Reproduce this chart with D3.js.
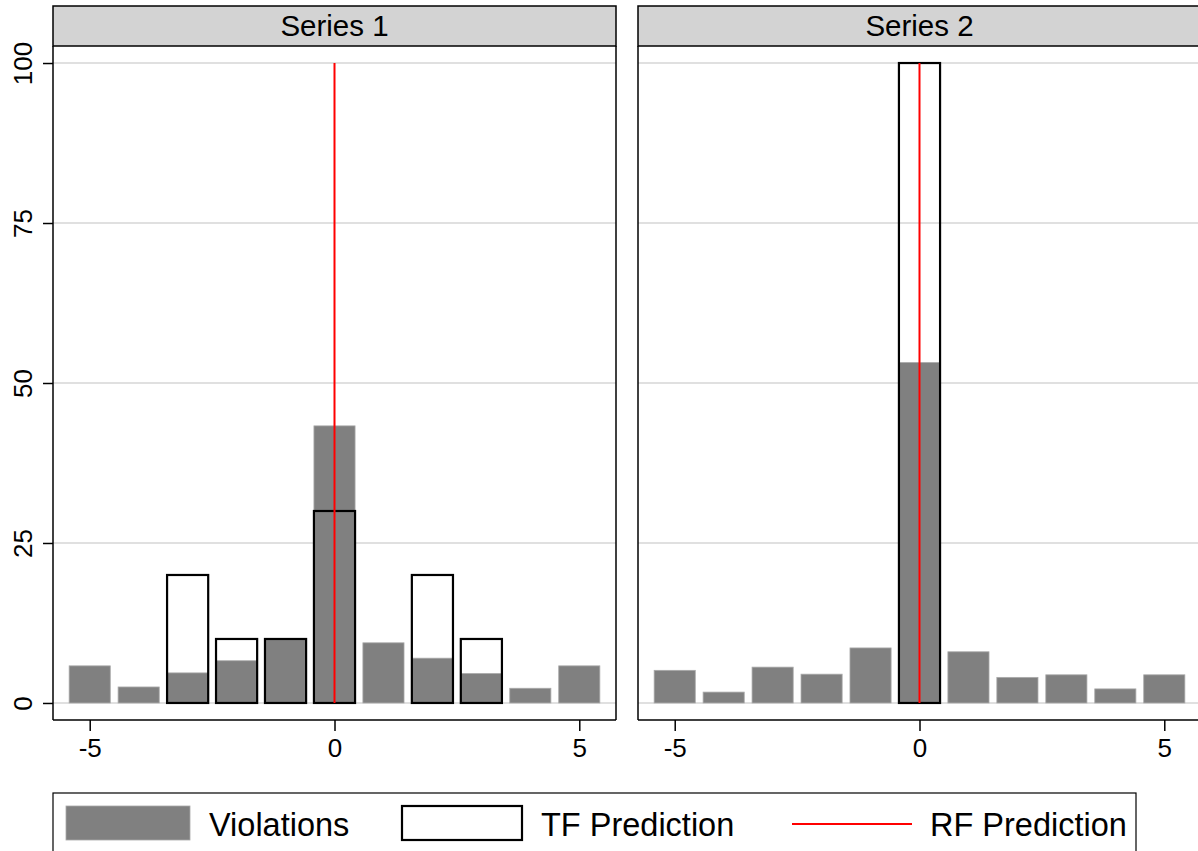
<!DOCTYPE html>
<html>
<head>
<meta charset="utf-8">
<script src="https://cdn.jsdelivr.net/npm/d3@7"></script>
<style>
  html, body { margin: 0; padding: 0; background: #fff; }
  svg { display: block; font-family: "Liberation Sans", Arial, Helvetica, sans-serif; }
</style>
</head>
<body>
<svg id="chart" width="1198" height="851"></svg>
<script>
const categories = [-5, -4, -3, -2, -1, 0, 1, 2, 3, 4, 5];
const seriesNames = ["Series 1", "Series 2"];
const violations1 = [5.8, 2.5, 4.7, 6.6, 10.0, 43.3, 9.4, 7.0, 4.6, 2.3, 5.8];
const tfPrediction1 = [0, 0, 20, 10, 10, 30, 0, 20, 10, 0, 0];
const violations2 = [5.1, 1.7, 5.6, 4.5, 8.6, 53.2, 8.0, 4.0, 4.4, 2.2, 4.4];
const tfPrediction2 = [0, 0, 0, 0, 0, 100, 0, 0, 0, 0, 0];
const rfPosition = [0, 0];
const rfValue = [100, 100];
const yTicks = [0, 25, 50, 75, 100];
const xTicks = [-5, 0, 5];
const legendLabels = ["Violations", "TF Prediction", "RF Prediction"];

const panels = [
  { name: seriesNames[0], viol: violations1, tf: tfPrediction1, rfx: rfPosition[0], rfy: rfValue[0] },
  { name: seriesNames[1], viol: violations2, tf: tfPrediction2, rfx: rfPosition[1], rfy: rfValue[1] }
];

const svg = d3.select("#chart");
const FONT = "'Liberation Sans', Arial, Helvetica, sans-serif";
const panelW = 563, panelLeft = [53, 638];
const plotTop = 46, plotBottom = 720, headerTop = 6;
const barW = 0.84;

const y = d3.scaleLinear().domain([-2.66, 102.66]).range([plotBottom, plotTop]);

panels.forEach((p, i) => {
  const x0 = panelLeft[i];
  const x = d3.scaleLinear().domain([-5.75, 5.75]).range([x0, x0 + panelW]);
  const g = svg.append("g");

  // header
  g.append("rect").attr("x", x0).attr("y", headerTop).attr("width", panelW).attr("height", plotTop - headerTop)
    .attr("fill", "#d3d3d3").attr("stroke", "#000").attr("stroke-width", 1.5);
  g.append("text").attr("x", x0 + panelW / 2).attr("y", (headerTop + plotTop) / 2 + 10)
    .attr("text-anchor", "middle").attr("font-size", 29.5).text(p.name);

  // gridlines
  g.selectAll(".grid").data(yTicks).join("line")
    .attr("x1", x0).attr("x2", x0 + panelW)
    .attr("y1", d => y(d)).attr("y2", d => y(d))
    .attr("stroke", "#e0e0e0").attr("stroke-width", 2);

  // violations bars
  g.selectAll(".viol").data(categories.map((c, k) => ({ c, v: p.viol[k] }))).join("rect")
    .attr("x", d => x(d.c - barW / 2)).attr("width", d => x(d.c + barW / 2) - x(d.c - barW / 2))
    .attr("y", d => y(d.v)).attr("height", d => y(0) - y(d.v))
    .attr("fill", "#808080").attr("stroke", "#a9a9a9").attr("stroke-width", 0.8);

  // TF prediction outlines
  g.selectAll(".tf").data(categories.map((c, k) => ({ c, v: p.tf[k] })).filter(d => d.v > 0)).join("rect")
    .attr("x", d => x(d.c - barW / 2)).attr("width", d => x(d.c + barW / 2) - x(d.c - barW / 2))
    .attr("y", d => y(d.v)).attr("height", d => y(0) - y(d.v))
    .attr("fill", "none").attr("stroke", "#000").attr("stroke-width", 2.2);

  // RF prediction line
  g.append("line").attr("x1", x(p.rfx)).attr("x2", x(p.rfx))
    .attr("y1", y(0)).attr("y2", y(p.rfy))
    .attr("stroke", "#ff0000").attr("stroke-width", 2);

  // frame
  g.append("line").attr("x1", x0).attr("x2", x0).attr("y1", plotTop).attr("y2", plotBottom).attr("stroke", "#000").attr("stroke-width", 1.5);
  g.append("line").attr("x1", x0).attr("x2", x0 + panelW).attr("y1", plotBottom).attr("y2", plotBottom).attr("stroke", "#000").attr("stroke-width", 1.5);
  g.append("line").attr("x1", x0 + panelW).attr("x2", x0 + panelW).attr("y1", plotTop).attr("y2", plotBottom).attr("stroke", "#000").attr("stroke-width", 1.5);

  // x axis
  const xAxis = d3.axisBottom(x).tickValues(xTicks).tickSize(11).tickPadding(8).tickFormat(d3.format("d"));
  const xa = g.append("g").attr("transform", `translate(0,${plotBottom})`).call(xAxis);
  xa.select(".domain").remove();
  xa.selectAll(".tick line").attr("stroke", "#000").attr("stroke-width", 1.5);
  xa.selectAll(".tick text").attr("font-size", 26).attr("fill", "#000")
    .attr("font-family", FONT)
    .text(d => d < 0 ? "-" + Math.abs(d) : d);

  if (i === 0) {
    const yAxis = d3.axisLeft(y).tickValues(yTicks).tickSize(10).tickPadding(0);
    const ya = g.append("g").attr("transform", `translate(${x0},0)`).call(yAxis);
    ya.select(".domain").remove();
    ya.selectAll(".tick line").attr("stroke", "#000").attr("stroke-width", 1.5);
    ya.selectAll(".tick text").attr("font-size", 26).attr("fill", "#000")
      .attr("font-family", FONT)
      .attr("text-anchor", "middle").attr("dy", null)
      .attr("transform", "translate(-29,0) rotate(-90)")
      .attr("x", 0).attr("y", 8);
  }
});

// legend
const lg = svg.append("g");
lg.append("rect").attr("x", 53).attr("y", 793).attr("width", 1083).attr("height", 70)
  .attr("fill", "#fff").attr("stroke", "#000").attr("stroke-width", 1.2);
const swX = [66, 402, 792], txtX = [209, 541, 930];
lg.append("rect").attr("x", swX[0]).attr("y", 806).attr("width", 124).attr("height", 34)
  .attr("fill", "#808080").attr("stroke", "#a9a9a9").attr("stroke-width", 0.8);
lg.append("rect").attr("x", swX[1]).attr("y", 806).attr("width", 120).attr("height", 34)
  .attr("fill", "none").attr("stroke", "#000").attr("stroke-width", 2.2);
lg.append("line").attr("x1", swX[2]).attr("x2", swX[2] + 120).attr("y1", 824).attr("y2", 824)
  .attr("stroke", "#ff0000").attr("stroke-width", 2);
legendLabels.forEach((t, k) => {
  lg.append("text").attr("x", txtX[k]).attr("y", 836).attr("font-size", 32.5).text(t);
});
</script>
</body>
</html>
